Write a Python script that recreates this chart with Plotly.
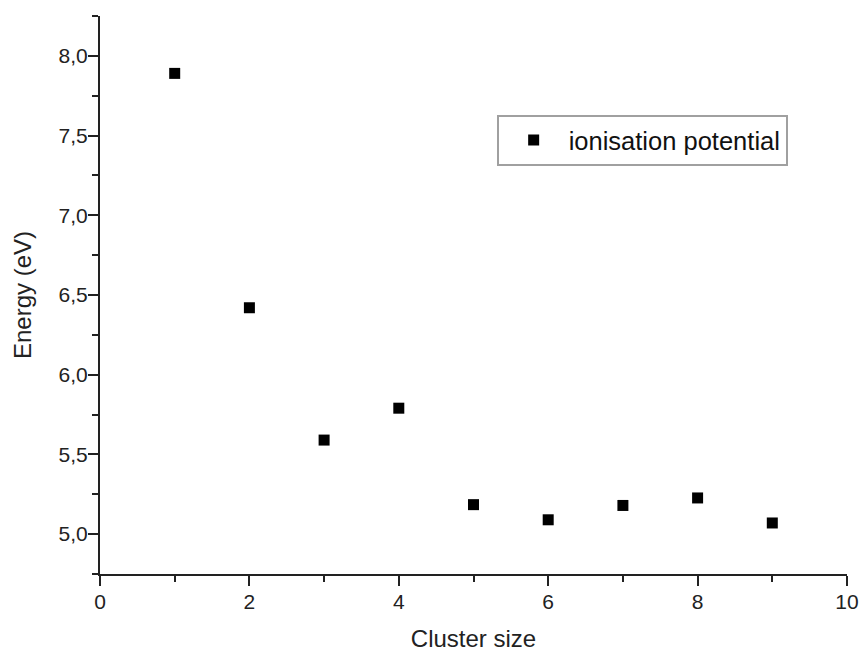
import plotly.graph_objects as go

cluster_size = [1, 2, 3, 4, 5, 6, 7, 8, 9]
ionisation_potential = [7.89, 6.42, 5.59, 5.79, 5.185, 5.09, 5.18, 5.227, 5.07]
series_name = "ionisation potential"
x_title = "Cluster size"
y_title = "Energy (eV)"

font_family = "Arial, Liberation Sans, Helvetica, sans-serif"

fig = go.Figure()
fig.add_trace(go.Scatter(
    x=cluster_size, y=ionisation_potential, mode="markers", name=series_name,
    marker=dict(symbol="square", size=11, color="black", line=dict(width=0)),
    showlegend=True,
))

axis_common = dict(
    showline=True, linecolor="#222", linewidth=2,
    ticks="outside", ticklen=10, tickwidth=2, tickcolor="#222",
    showgrid=False, zeroline=False, mirror=False, automargin=False,
    ticklabeloverflow="allow",
    tickfont=dict(size=21, color="#222", family=font_family),
)

fig.update_xaxes(
    range=[0, 10], tick0=0, dtick=2,
    minor=dict(ticks="outside", ticklen=6, tickwidth=2, tickcolor="#222", dtick=1, tick0=0, showgrid=False),
    title=dict(text=x_title, font=dict(size=24, color="#222", family=font_family), standoff=22),
    ticklabelstandoff=-2,
    **axis_common,
)
fig.update_yaxes(
    range=[4.75, 8.25], tick0=0, dtick=0.5, tickformat=".1f",
    minor=dict(ticks="outside", ticklen=6, tickwidth=2, tickcolor="#222", dtick=0.25, tick0=0, showgrid=False),
    title=dict(text=y_title, font=dict(size=24, color="#222", family=font_family), standoff=20),
    ticklabelstandoff=-4,
    **axis_common,
)

fig.update_layout(
    width=861, height=652,
    margin=dict(l=100, r=14, t=16, b=78, autoexpand=False),
    paper_bgcolor="white", plot_bgcolor="white",
    separators=", ",
    font=dict(family=font_family, color="#222"),
    legend=dict(
        x=0.531, y=0.8226, xanchor="left", yanchor="top",
        bordercolor="#a0a0a0", borderwidth=2, bgcolor="white",
        font=dict(size=25.5, color="#111", family=font_family),
        itemwidth=60,
    ),
)

fig.write_html(
    "out.html",
    config={"displayModeBar": False},
    post_script="document.body.style.margin='0';document.body.style.overflow='hidden';",
)
